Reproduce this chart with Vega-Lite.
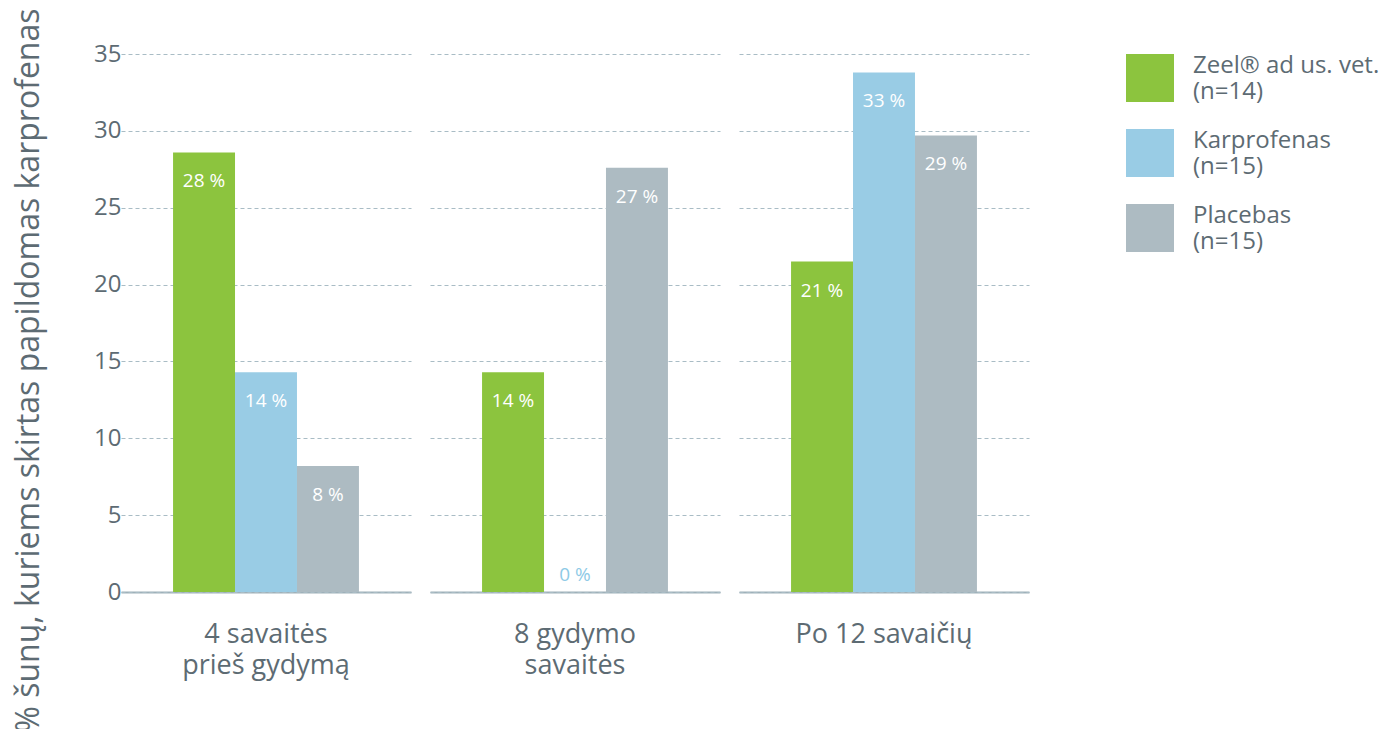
{
  "$schema": "https://vega.github.io/schema/vega-lite/v6.json",
  "autosize": {"type": "pad"},
  "padding": {"left": 11, "top": 7, "right": 0, "bottom": 0},
  "background": "white",
  "config": {"font": "Open Sans", "view": {"stroke": null}},
  "spacing": 19,
  "data": {
    "values": [
      {"group": "4 savaitės|prieš gydymą", "series": "Zeel® ad us. vet.|(n=14)", "value": 28.6, "label": "28 %"},
      {"group": "4 savaitės|prieš gydymą", "series": "Karprofenas|(n=15)", "value": 14.3, "label": "14 %"},
      {"group": "4 savaitės|prieš gydymą", "series": "Placebas|(n=15)", "value": 8.2, "label": "8 %"},
      {"group": "8 gydymo|savaitės", "series": "Zeel® ad us. vet.|(n=14)", "value": 14.3, "label": "14 %"},
      {"group": "8 gydymo|savaitės", "series": "Karprofenas|(n=15)", "value": 0, "label": "0 %"},
      {"group": "8 gydymo|savaitės", "series": "Placebas|(n=15)", "value": 27.6, "label": "27 %"},
      {"group": "Po 12 savaičių", "series": "Zeel® ad us. vet.|(n=14)", "value": 21.5, "label": "21 %"},
      {"group": "Po 12 savaičių", "series": "Karprofenas|(n=15)", "value": 33.8, "label": "33 %"},
      {"group": "Po 12 savaičių", "series": "Placebas|(n=15)", "value": 29.7, "label": "29 %"}
    ]
  },
  "facet": {
    "column": {
      "field": "group",
      "type": "nominal",
      "sort": ["4 savaitės|prieš gydymą", "8 gydymo|savaitės", "Po 12 savaičių"],
      "title": null,
      "header": {
        "labelOrient": "bottom",
        "labelExpr": "split(datum.label, '|')",
        "labelFontSize": 27,
        "labelColor": "#5d6b73",
        "labelPadding": 30,
        "labelLineHeight": 31,
        "labelBaseline": "top"
      }
    }
  },
  "spec": {
    "width": 290,
    "height": 538,
    "encoding": {
      "x": {
        "field": "series",
        "type": "nominal",
        "sort": ["Zeel® ad us. vet.|(n=14)", "Karprofenas|(n=15)", "Placebas|(n=15)"],
        "scale": {"paddingInner": 0, "paddingOuter": 0.84},
        "axis": {"labels": false, "ticks": false, "title": null, "domain": true, "domainColor": "#9fb1ba", "domainWidth": 2, "grid": false}
      },
      "y": {
        "field": "value",
        "type": "quantitative",
        "scale": {"domain": [0, 35], "nice": false},
        "axis": {
          "values": [0, 5, 10, 15, 20, 25, 30, 35],
          "grid": true,
          "gridDash": [4, 3],
          "gridColor": "#a9bcc5",
          "gridWidth": 1,
          "domain": false,
          "ticks": false,
          "labelFontSize": 24,
          "labelColor": "#5d6b73",
          "labelPadding": 0,
          "title": "% šunų, kuriems skirtas papildomas karprofenas",
          "titleFontSize": 32,
          "titleFontWeight": "normal",
          "titleColor": "#5d6b73",
          "titleAngle": 270,
          "titleAlign": "center",
          "titleBaseline": "middle",
          "titleX": -93,
          "titleY": 316,
          "titleLimit": 2000
        }
      }
    },
    "layer": [
      {
        "mark": {"type": "bar"},
        "encoding": {
          "color": {
            "field": "series",
            "type": "nominal",
            "sort": ["Zeel® ad us. vet.|(n=14)", "Karprofenas|(n=15)", "Placebas|(n=15)"],
            "scale": {"range": ["#8cc43e", "#99cce5", "#adbbc2"]},
            "legend": {
              "title": null,
              "orient": "right",
              "offset": 97,
              "symbolType": "square",
              "symbolSize": 2304,
              "symbolStrokeWidth": 0,
              "symbolOpacity": 1,
              "labelExpr": "split(datum.label, '|')",
              "labelFontSize": 24,
              "labelLineHeight": 28,
              "labelBaseline": "bottom",
              "labelColor": "#5d6b73",
              "labelOffset": 19,
              "labelLimit": 300,
              "rowPadding": 25
            }
          }
        }
      },
      {
        "transform": [{"filter": "datum.value > 0"}],
        "mark": {"type": "text", "color": "white", "fontSize": 19, "baseline": "middle", "dy": 29},
        "encoding": {"text": {"field": "label"}}
      },
      {
        "transform": [{"filter": "datum.value == 0"}],
        "mark": {"type": "text", "color": "#8ecae6", "fontSize": 19, "baseline": "middle", "dy": -17},
        "encoding": {"text": {"field": "label"}}
      }
    ]
  }
}
